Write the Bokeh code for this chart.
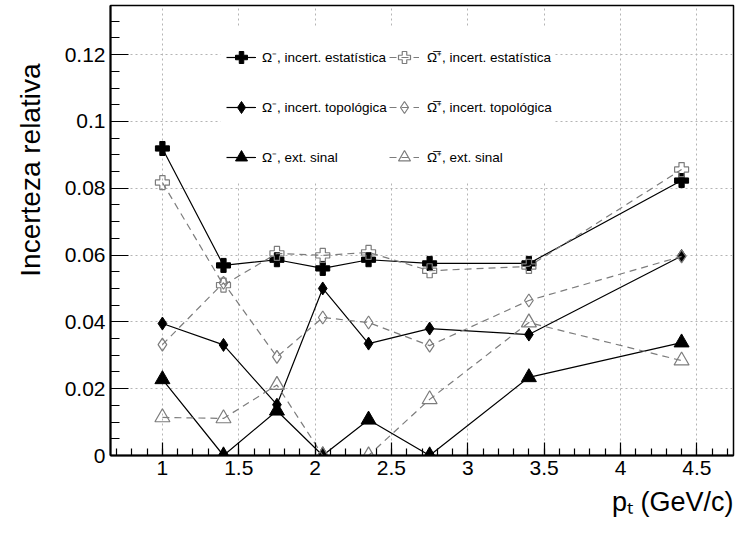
import numpy as np
from bokeh.plotting import figure
from bokeh.models import FixedTicker, Legend, LegendItem, Title, BoxAnnotation
from bokeh.embed import file_html
from bokeh.resources import INLINE

# ---------------- data ----------------
pt = [1.0, 1.4, 1.75, 2.05, 2.35, 2.75, 3.4, 4.4]

om_stat = [0.0919, 0.0569, 0.0586, 0.0560, 0.0586, 0.0575, 0.0575, 0.0823]
ap_stat = [0.0817, 0.0510, 0.0605, 0.0599, 0.0608, 0.0553, 0.0566, 0.0856]
om_topo = [0.0395, 0.0331, 0.0152, 0.0500, 0.0335, 0.0380, 0.0362, 0.0597]
ap_topo = [0.0332, 0.0517, 0.0295, 0.0413, 0.0398, 0.0329, 0.0464, 0.0596]
om_ext = [0.0228, 0.0, 0.0134, 0.0, 0.0107, 0.0, 0.0234, 0.0338]
ap_ext = [0.0114, 0.0111, 0.0211, 0.0, 0.0, 0.0168, 0.0398, 0.0284]

labels_om = ["\u03A9\u207B, incert. estat\u00EDstica",
             "\u03A9\u207B, incert. topol\u00F3gica",
             "\u03A9\u207B, ext. sinal"]
labels_ap = ["\u03A9\u0305\u207A, incert. estat\u00EDstica",
             "\u03A9\u0305\u207A, incert. topol\u00F3gica",
             "\u03A9\u0305\u207A, ext. sinal"]

x_ticks = [1.0, 1.5, 2.0, 2.5, 3.0, 3.5, 4.0, 4.5]
x_tick_labels = ["1", "1.5", "2", "2.5", "3", "3.5", "4", "4.5"]
y_ticks = [0.0, 0.02, 0.04, 0.06, 0.08, 0.10, 0.12]
y_tick_labels = ["0", "0.02", "0.04", "0.06", "0.08", "0.1", "0.12"]

y_title = "Incerteza relativa"
x_title = "p\u209C (GeV/c)"

FONT = "Liberation Sans"
GRAY = "#7c7c7c"

x_minor = [round(v, 2) for v in np.arange(0.7, 4.74, 0.1)]
y_minor = [round(v, 4) for v in np.arange(0.0, 0.1347, 0.005)]

# ---------------- figure ----------------
p = figure(width=735, height=536, x_range=(0.66, 4.74), y_range=(0.0, 0.1347),
           output_backend="svg", toolbar_location=None, title=None,
           min_border_left=110, min_border_right=2, min_border_top=5,
           min_border_bottom=81)
p.background_fill_color = "white"
p.border_fill_color = "white"
p.outline_line_color = "black"
p.outline_line_width = 1.5

xt = FixedTicker(ticks=x_ticks, minor_ticks=x_minor)
yt = FixedTicker(ticks=y_ticks, minor_ticks=y_minor)

xa = p.xaxis[0]
ya = p.yaxis[0]
xa.ticker = xt
ya.ticker = yt
xa.major_label_overrides = {t: l for t, l in zip(x_ticks, x_tick_labels)}
ya.major_label_overrides = {t: l for t, l in zip(y_ticks, y_tick_labels)}
for ax in (xa, ya):
    ax.axis_line_color = "black"
    ax.axis_line_width = 2
    ax.major_tick_line_color = "black"
    ax.minor_tick_line_color = "black"
    ax.major_tick_line_width = 1.2
    ax.minor_tick_line_width = 1.2
    ax.major_tick_out = 0
    ax.minor_tick_out = 0
    ax.major_label_text_font = FONT
    ax.major_label_text_font_size = "21px"
    ax.major_label_text_color = "black"
    ax.major_label_standoff = 5
xa.major_tick_in = 13
xa.minor_tick_in = 7
ya.major_tick_in = 18
ya.minor_tick_in = 9

p.xgrid.ticker = xt
p.ygrid.ticker = yt
for g in (p.xgrid, p.ygrid):
    g.grid_line_color = "#b4b4b4"
    g.grid_line_dash = "2 3"
    g.grid_line_width = 1

# ---------------- series ----------------
DASH = "7 5"
l1 = p.line(pt, om_stat, line_color="black", line_width=1.2)
s1 = p.scatter(pt, om_stat, marker="plus", size=14, fill_color="black", line_color="black")
l2 = p.line(pt, ap_stat, line_color=GRAY, line_width=1.2, line_dash=DASH)
s2 = p.scatter(pt, ap_stat, marker="plus", size=14, fill_color=None, line_color=GRAY, line_width=1.2)
l3 = p.line(pt, om_topo, line_color="black", line_width=1.2)
s3 = p.scatter(pt, om_topo, marker="diamond", size=13, fill_color="black", line_color="black")
l4 = p.line(pt, ap_topo, line_color=GRAY, line_width=1.2, line_dash=DASH)
s4 = p.scatter(pt, ap_topo, marker="diamond", size=13, fill_color=None, line_color=GRAY, line_width=1.2)
l5 = p.line(pt, om_ext, line_color="black", line_width=1.2)
s5 = p.scatter(pt, om_ext, marker="triangle", size=15, fill_color="black", line_color="black")
l6 = p.line(pt, ap_ext, line_color=GRAY, line_width=1.2, line_dash=DASH)
s6 = p.scatter(pt, ap_ext, marker="triangle", size=15, fill_color=None, line_color=GRAY, line_width=1.2)

# ---------------- legend ----------------
box = BoxAnnotation(left=110, right=443, bottom=273, top=428,
                    left_units="screen", right_units="screen",
                    bottom_units="screen", top_units="screen",
                    fill_color="white", fill_alpha=1.0, line_alpha=0)
p.add_layout(box)

common = dict(orientation="vertical", glyph_width=30, glyph_height=30, spacing=20,
              padding=0, margin=0, background_fill_alpha=0, border_line_alpha=0,
              label_text_font=FONT, label_text_font_size="13.5px",
              label_text_color="black", label_height=30)
leg1 = Legend(items=[LegendItem(label=labels_om[0], renderers=[l1, s1]),
                     LegendItem(label=labels_om[1], renderers=[l3, s3]),
                     LegendItem(label=labels_om[2], renderers=[l5, s5])],
              location=(116, 283), label_standoff=6, **common)
leg2 = Legend(items=[LegendItem(label=labels_ap[0], renderers=[l2, s2]),
                     LegendItem(label=labels_ap[1], renderers=[l4, s4]),
                     LegendItem(label=labels_ap[2], renderers=[l6, s6])],
              location=(279, 283), label_standoff=8, **common)
p.add_layout(leg1)
p.add_layout(leg2)

# ---------------- axis titles ----------------
p.add_layout(Title(text=y_title, align="right", offset=58, standoff=27,
                   vertical_align="top",
                   text_font=FONT, text_font_size="28px", text_font_style="normal",
                   text_color="black"), "left")
p.add_layout(Title(text=x_title, align="right", offset=0, standoff=15,
                   text_font=FONT, text_font_size="27px", text_font_style="normal",
                   text_color="black"), "below")

open("out.html", "w").write(file_html(p, INLINE))
